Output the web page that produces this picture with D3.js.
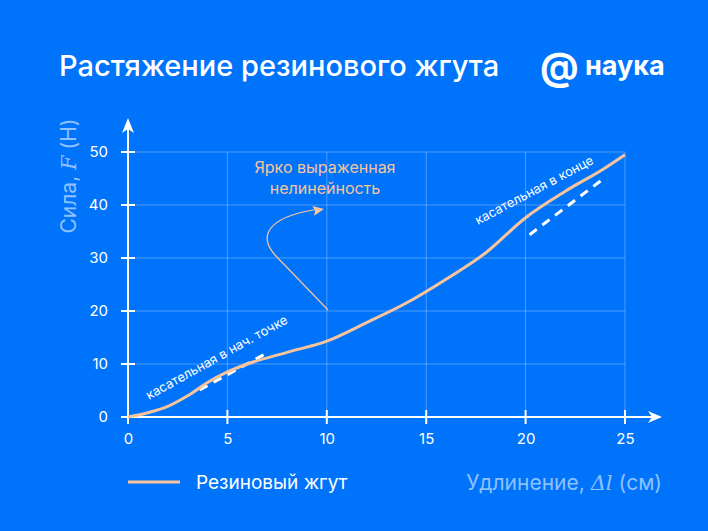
<!DOCTYPE html>
<html><head><meta charset="utf-8">
<script src="https://cdn.jsdelivr.net/npm/d3@7"></script>
<style>body{margin:0;background:#0073fb;font-family:Inter,"Noto Sans",sans-serif}</style>
</head><body><div id="chart"></div>
<script>
const xVals = [0, 1, 2, 3, 4, 5, 6, 8, 10, 12, 14, 16, 18, 20, 22, 24, 25];
const yVals = [0, 0.8, 2, 4, 6.5, 8.5, 10, 12.2, 14.3, 17.8, 21.5, 26, 31, 37.6, 42.6, 47, 49.5];
const tanStart = [[3.6, 5.1], [7.0, 12.1]];
const tanEnd = [[20.2, 34.4], [24, 45.2]];
const xTicks = [0, 5, 10, 15, 20, 25];
const yTicks = [0, 10, 20, 30, 40, 50];

const W = 708, H = 531;
const svg = d3.select('#chart').append('svg').attr('width', W).attr('height', H);
svg.append('rect').attr('width', W).attr('height', H).attr('fill', '#0073fb');
const x = d3.scaleLinear().domain([0, 25]).range([128, 625]);
const y = d3.scaleLinear().domain([0, 50]).range([417, 152]);
const peach = '#f8c49b', grid = 'rgba(255,255,255,0.3)';

// title and logo
svg.append('text').attr('x', 59).attr('y', 76).attr('fill', '#fff').attr('font-size', 29).attr('font-weight', 500).text('Растяжение резинового жгута');
svg.append('text').attr('x', 540).attr('y', 80).attr('fill', '#fff').attr('font-size', 38).attr('font-weight', 700).text('@');
svg.append('text').attr('x', 585).attr('y', 75).attr('fill', '#fff').attr('font-size', 27).attr('font-weight', 700).text('наука');

// grid
svg.append('g').selectAll('line').data(xTicks.slice(1)).join('line')
  .attr('x1', d => x(d)).attr('x2', d => x(d)).attr('y1', y(0)).attr('y2', y(50)).attr('stroke', grid);
svg.append('g').selectAll('line').data(yTicks.slice(1)).join('line')
  .attr('x1', x(0)).attr('x2', x(25)).attr('y1', d => y(d)).attr('y2', d => y(d)).attr('stroke', grid);

// axes
const xa = svg.append('g').attr('transform', `translate(0,${y(0)})`)
  .call(d3.axisBottom(x).tickValues(xTicks).tickSize(0).tickPadding(16));
const ya = svg.append('g').attr('transform', `translate(${x(0)},0)`)
  .call(d3.axisLeft(y).tickValues(yTicks).tickSize(0).tickPadding(20));
[xa, ya].forEach(a => { a.select('.domain').remove(); a.selectAll('text').attr('fill', '#fff').attr('font-size', 15).attr('font-family', 'Inter,sans-serif'); });
svg.append('g').selectAll('line').data(xTicks.slice(1)).join('line')
  .attr('x1', d => x(d)).attr('x2', d => x(d)).attr('y1', y(0) - 7).attr('y2', y(0) + 7).attr('stroke', '#fff').attr('stroke-width', 2);
svg.append('g').selectAll('line').data(yTicks.slice(1)).join('line')
  .attr('y1', d => y(d)).attr('y2', d => y(d)).attr('x1', x(0) - 7).attr('x2', x(0) + 7).attr('stroke', '#fff').attr('stroke-width', 2);
svg.append('line').attr('x1', x(0) - 7).attr('x2', 652).attr('y1', y(0)).attr('y2', y(0)).attr('stroke', '#fff').attr('stroke-width', 2);
svg.append('path').attr('d', `M662,${y(0)}L648,${y(0) - 6}L652,${y(0)}L648,${y(0) + 6}Z`).attr('fill', '#fff');
svg.append('line').attr('x1', x(0)).attr('x2', x(0)).attr('y1', y(0) + 7).attr('y2', 128).attr('stroke', '#fff').attr('stroke-width', 2);
svg.append('path').attr('d', `M${x(0)},118L${x(0) - 6},133L${x(0)},129L${x(0) + 6},133Z`).attr('fill', '#fff');

// axis labels
const yl = svg.append('text').attr('transform', 'translate(76,176) rotate(-90)').attr('text-anchor', 'middle')
  .attr('fill', '#8fc1ff').attr('font-size', 21);
yl.append('tspan').text('Сила, ');
yl.append('tspan').attr('font-family', 'DejaVu Serif,serif').attr('font-style', 'italic').text('F');
yl.append('tspan').text(' (Н)');
const xl = svg.append('text').attr('x', 662).attr('y', 490).attr('text-anchor', 'end').attr('fill', '#8fc1ff').attr('font-size', 21);
xl.append('tspan').text('Удлинение, ');
xl.append('tspan').attr('font-family', 'DejaVu Serif,serif').attr('font-style', 'italic').text('Δl');
xl.append('tspan').text(' (см)');

// tangents
[tanStart, tanEnd].forEach(t => svg.append('line')
  .attr('x1', x(t[0][0])).attr('y1', y(t[0][1])).attr('x2', x(t[1][0])).attr('y2', y(t[1][1]))
  .attr('stroke', '#fff').attr('stroke-width', 3).attr('stroke-dasharray', '9,7'));

// curve
const pts = xVals.map((v, i) => [v, yVals[i]]);
svg.append('path').datum(pts).attr('fill', 'none').attr('stroke', peach).attr('stroke-width', 3)
  .attr('d', d3.line().x(d => x(d[0])).y(d => y(d[1])).curve(d3.curveMonotoneX));

// tangent labels
svg.append('text').attr('transform', `translate(149,400) rotate(-29)`).attr('fill', '#fff').attr('font-size', 13).text('касательная в нач. точке');
svg.append('text').attr('transform', `translate(478,225) rotate(-28)`).attr('fill', '#fff').attr('font-size', 13).text('касательная в конце');

// annotation
svg.append('text').attr('x', 325).attr('y', 173).attr('text-anchor', 'middle').attr('fill', peach).attr('font-size', 16).text('Ярко выраженная');
svg.append('text').attr('x', 325).attr('y', 194).attr('text-anchor', 'middle').attr('fill', peach).attr('font-size', 16).text('нелинейность');
svg.append('path').attr('d', 'M328,310 L275,255 C255,232 275,215 320,209').attr('fill', 'none').attr('stroke', peach).attr('stroke-width', 1.2);
svg.append('path').attr('d', 'M324,209 L313,204 L315,209 L313,214 Z').attr('fill', peach).attr('transform', 'rotate(-10,324,209)');

// legend
svg.append('line').attr('x1', 128).attr('x2', 180).attr('y1', 482).attr('y2', 482).attr('stroke', peach).attr('stroke-width', 3);
svg.append('text').attr('x', 196).attr('y', 489).attr('fill', '#fff').attr('font-size', 19).text('Резиновый жгут');
</script></body></html>
